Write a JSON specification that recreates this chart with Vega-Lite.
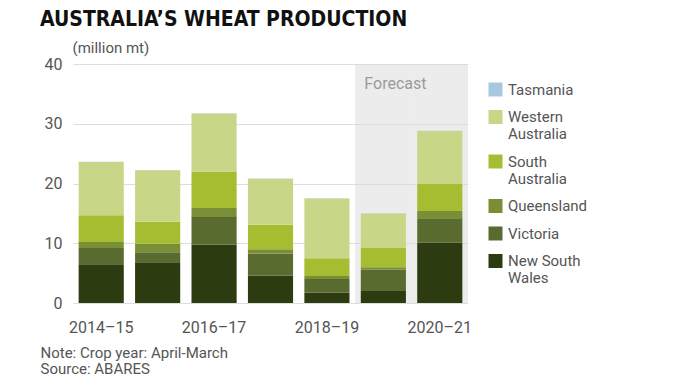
{
  "$schema": "https://vega.github.io/schema/vega-lite/v6.json",
  "autosize": {"type": "none"},
  "width": 395,
  "height": 239,
  "padding": {"left": 73, "top": 64, "right": 212, "bottom": 79},
  "background": "white",
  "config": {"font": "Roboto", "view": {"stroke": null}},
  "title": {
    "text": "AUSTRALIA’S WHEAT PRODUCTION",
    "anchor": "start",
    "frame": "group",
    "dx": -33,
    "offset": 10,
    "font": "DejaVu Sans Condensed, Roboto, sans-serif",
    "fontSize": 21,
    "fontWeight": "bold",
    "color": "#111111"
  },
  "datasets": {
    "wheat": [
      {"year": "2014–15", "state": "New South Wales", "value": 6.5},
      {"year": "2014–15", "state": "Victoria", "value": 2.7},
      {"year": "2014–15", "state": "Queensland", "value": 1.0},
      {"year": "2014–15", "state": "South Australia", "value": 4.5},
      {"year": "2014–15", "state": "Western Australia", "value": 8.9},
      {"year": "2014–15", "state": "Tasmania", "value": 0.04},
      {"year": "2015–16", "state": "New South Wales", "value": 6.8},
      {"year": "2015–16", "state": "Victoria", "value": 1.7},
      {"year": "2015–16", "state": "Queensland", "value": 1.4},
      {"year": "2015–16", "state": "South Australia", "value": 3.7},
      {"year": "2015–16", "state": "Western Australia", "value": 8.6},
      {"year": "2015–16", "state": "Tasmania", "value": 0.04},
      {"year": "2016–17", "state": "New South Wales", "value": 9.8},
      {"year": "2016–17", "state": "Victoria", "value": 4.6},
      {"year": "2016–17", "state": "Queensland", "value": 1.5},
      {"year": "2016–17", "state": "South Australia", "value": 6.1},
      {"year": "2016–17", "state": "Western Australia", "value": 9.7},
      {"year": "2016–17", "state": "Tasmania", "value": 0.04},
      {"year": "2017–18", "state": "New South Wales", "value": 4.6},
      {"year": "2017–18", "state": "Victoria", "value": 3.7},
      {"year": "2017–18", "state": "Queensland", "value": 0.7},
      {"year": "2017–18", "state": "South Australia", "value": 4.1},
      {"year": "2017–18", "state": "Western Australia", "value": 7.7},
      {"year": "2017–18", "state": "Tasmania", "value": 0.04},
      {"year": "2018–19", "state": "New South Wales", "value": 1.7},
      {"year": "2018–19", "state": "Victoria", "value": 2.3},
      {"year": "2018–19", "state": "Queensland", "value": 0.5},
      {"year": "2018–19", "state": "South Australia", "value": 3.0},
      {"year": "2018–19", "state": "Western Australia", "value": 10.0},
      {"year": "2018–19", "state": "Tasmania", "value": 0.04},
      {"year": "2019–20", "state": "New South Wales", "value": 2.0},
      {"year": "2019–20", "state": "Victoria", "value": 3.6},
      {"year": "2019–20", "state": "Queensland", "value": 0.4},
      {"year": "2019–20", "state": "South Australia", "value": 3.2},
      {"year": "2019–20", "state": "Western Australia", "value": 5.8},
      {"year": "2019–20", "state": "Tasmania", "value": 0.04},
      {"year": "2020–21", "state": "New South Wales", "value": 10.1},
      {"year": "2020–21", "state": "Victoria", "value": 4.1},
      {"year": "2020–21", "state": "Queensland", "value": 1.2},
      {"year": "2020–21", "state": "South Australia", "value": 4.5},
      {"year": "2020–21", "state": "Western Australia", "value": 8.9},
      {"year": "2020–21", "state": "Tasmania", "value": 0.04}
    ],
    "forecast": [
      {"year": "2019–20", "top": 40},
      {"year": "2020–21", "top": 40}
    ]
  },
  "layer": [
    {
      "data": {"name": "forecast"},
      "mark": {"type": "bar", "width": {"band": 1.25}, "color": "#d9d9d9", "opacity": 0.5},
      "encoding": {
        "x": {"field": "year", "type": "nominal", "scale": {"paddingInner": 0.2, "paddingOuter": 0.1}},
        "y": {"field": "top", "type": "quantitative"}
      }
    },
    {
      "data": {"values": [{}]},
      "mark": {"type": "text", "text": "Forecast", "align": "left", "baseline": "middle", "dx": -19, "fontSize": 16, "color": "#9a9a9a"},
      "encoding": {
        "x": {"datum": "2019–20", "type": "nominal"},
        "y": {"datum": 36.6, "type": "quantitative"}
      }
    },
    {
      "data": {"name": "wheat"},
      "transform": [
        {"calculate": "indexof(['New South Wales','Victoria','Queensland','South Australia','Western Australia','Tasmania'], datum.state)", "as": "ord"}
      ],
      "mark": {"type": "bar"},
      "encoding": {
        "x": {
          "field": "year",
          "type": "nominal",
          "scale": {"paddingInner": 0.2, "paddingOuter": 0.1},
          "axis": {
            "values": ["2014–15", "2016–17", "2018–19", "2020–21"],
            "bandPosition": 0.5,
            "ticks": false,
            "domain": false,
            "labelAngle": 0,
            "labelAlign": "center",
            "labelBaseline": "top",
            "labelPadding": 16,
            "labelFontSize": 16,
            "labelColor": "#555555",
            "title": ["Note: Crop year: April-March", "Source: ABARES"],
            "titleAlign": "left",
            "titleAnchor": "start",
            "titleX": -33,
            "titleY": 42,
            "titleBaseline": "top",
            "titleFontSize": 15,
            "titleFontWeight": "normal",
            "titleColor": "#555555",
            "titleLineHeight": 16
          }
        },
        "y": {
          "field": "value",
          "type": "quantitative",
          "stack": "zero",
          "scale": {"domain": [0, 40], "nice": false},
          "axis": {
            "values": [0, 10, 20, 30, 40],
            "ticks": false,
            "domain": false,
            "labelPadding": 11,
            "labelFontSize": 16,
            "labelColor": "#555555",
            "gridColor": "#dddddd",
            "title": "(million mt)",
            "titleAngle": 0,
            "titleAlign": "left",
            "titleX": -1,
            "titleY": -12,
            "titleBaseline": "alphabetic",
            "titleFontSize": 15,
            "titleFontWeight": "normal",
            "titleColor": "#555555"
          }
        },
        "color": {
          "field": "state",
          "type": "nominal",
          "scale": {
            "domain": ["Tasmania", "Western Australia", "South Australia", "Queensland", "Victoria", "New South Wales"],
            "range": ["#a8c8e0", "#c8d688", "#a6bd32", "#7a8f35", "#5a6b30", "#2d3b10"]
          },
          "legend": {
            "title": null,
            "orient": "none",
            "legendX": 415,
            "legendY": 18,
            "symbolType": "square",
            "symbolSize": 196,
            "symbolStrokeWidth": 0,
            "labelFontSize": 15,
            "labelColor": "#555555",
            "labelOffset": 5,
            "rowPadding": 11.5,
            "labelExpr": "datum.label == 'Western Australia' ? ['Western', 'Australia'] : datum.label == 'South Australia' ? ['South', 'Australia'] : datum.label == 'New South Wales' ? ['New South', 'Wales'] : datum.label"
          }
        },
        "order": {"field": "ord", "type": "quantitative"}
      }
    }
  ]
}
